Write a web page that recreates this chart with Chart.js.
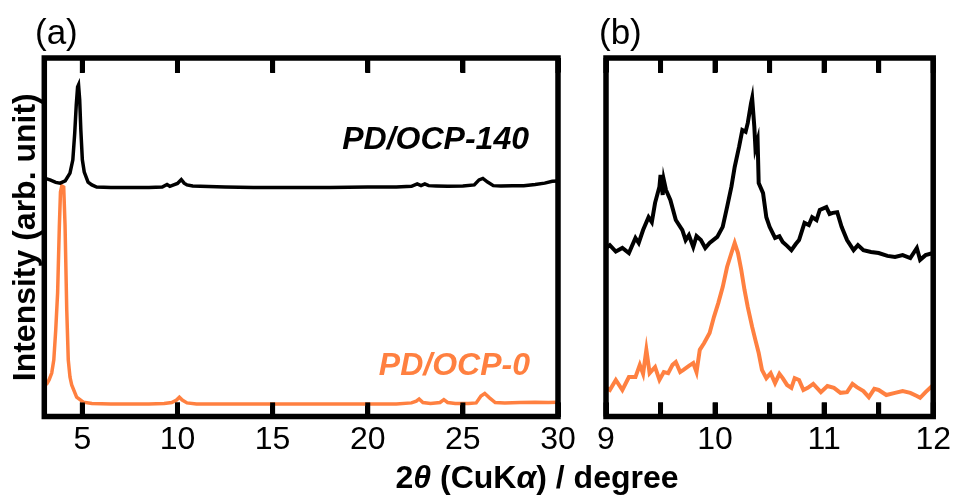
<!DOCTYPE html>
<html>
<head>
<meta charset="utf-8">
<script src="https://cdn.jsdelivr.net/npm/chart.js@4.4.1/dist/chart.umd.min.js"></script>
<style>
  body { margin: 0; background: #fff; }
  #wrap { position: relative; width: 969px; height: 500px; }
  #wrap canvas { position: absolute; left: 0; top: 0; }
</style>
</head>
<body>
<div id="wrap">
  <canvas id="xrd-wide" width="969" height="500"></canvas>
  <canvas id="xrd-zoom" width="969" height="500"></canvas>
</div>
<script>
// Panel (a): wide-angle scan, 2theta in degree
const twoThetaA140 = [3.0, 3.3, 3.6, 3.83, 4.1, 4.35, 4.5, 4.6, 4.68, 4.75, 4.8, 4.86, 4.92, 5.0, 5.1, 5.3, 5.5, 5.75, 6.5, 7.5,
  8.5, 9.2, 9.45, 9.6, 9.8, 10.0, 10.2, 10.35, 10.5, 10.8, 11.2, 12.5, 14, 16, 18, 20, 21.5, 22.3, 22.6, 22.8,
  23.0, 23.2, 23.6, 24.2, 25.0, 25.6, 25.85, 26.05, 26.3, 26.6, 27.0, 27.6, 28.2, 28.8, 29.3, 29.7, 30.0];
const intensityA140 = [66.5, 66.0, 65.3, 65.1, 65.7, 67.9, 71.6, 79.1, 86.9, 91.9, 92.5, 88.3, 79.9, 71.6, 68.2, 65.4, 64.6, 64.0, 63.9, 63.9,
  63.9, 64.0, 64.7, 64.2, 64.6, 65.0, 66.1, 65.1, 64.6, 64.3, 64.2, 64.0, 63.9, 63.9, 63.9, 64.0, 64.0, 64.2, 64.9, 64.4,
  64.9, 64.4, 64.3, 64.2, 64.3, 64.6, 66.0, 66.4, 65.4, 64.4, 64.3, 64.4, 64.4, 64.7, 65.1, 65.6, 65.7];

const twoThetaA0 = [3.0, 3.13, 3.25, 3.39, 3.5, 3.6, 3.7, 3.79, 3.85, 3.92, 4.02, 4.09, 4.18, 4.26, 4.35, 4.44, 4.7, 5.05, 5.5, 6.5,
  7.5, 8.5, 9.3, 9.7, 9.95, 10.1, 10.25, 10.5, 11, 12, 14, 16, 18, 20, 21.5, 22.3, 22.55, 22.7, 22.9, 23.3,
  23.8, 24.0, 24.2, 24.6, 25.3, 25.7, 25.95, 26.15, 26.4, 26.7, 27.2, 28, 28.8, 29.5, 30.0];
const intensityA0 = [8.8, 9.1, 10.2, 12.1, 15.8, 24.1, 34.5, 52.9, 62.6, 64.3, 64.0, 53.4, 29.7, 15.8, 11.0, 8.8, 5.4, 4.0, 3.6, 3.5,
  3.5, 3.5, 3.6, 3.9, 4.6, 5.4, 4.6, 3.8, 3.5, 3.5, 3.5, 3.5, 3.5, 3.5, 3.5, 3.8, 4.3, 4.9, 3.9, 3.6,
  3.9, 4.7, 3.9, 3.6, 3.6, 3.8, 5.7, 6.4, 5.2, 3.9, 3.8, 3.9, 4.0, 3.9, 4.0];

// Panel (b): 9-12 degree region
const twoThetaB140 = [9.0, 9.035, 9.09, 9.15, 9.21, 9.27, 9.30, 9.34, 9.39, 9.42,
  9.45, 9.49, 9.50, 9.52, 9.53, 9.55, 9.59, 9.64, 9.70, 9.73,
  9.76, 9.80, 9.83, 9.87, 9.91, 9.95, 10.02, 10.07, 10.11, 10.15,
  10.18, 10.22, 10.25, 10.28, 10.30, 10.33, 10.34, 10.36, 10.37, 10.39,
  10.40, 10.44, 10.47, 10.50, 10.55, 10.59, 10.62, 10.66, 10.70, 10.74,
  10.77, 10.82, 10.86, 10.89, 10.93, 10.96, 11.02, 11.05, 11.08, 11.12,
  11.16, 11.21, 11.27, 11.31, 11.36, 11.43, 11.50, 11.58, 11.65, 11.72,
  11.79, 11.85, 11.88, 11.93, 12.0];
const intensityB140 = [47.0, 47.8, 46.0, 47.0, 45.6, 49.8, 48.4, 52.0, 55.6, 54.2,
  59.6, 64.1, 67.4, 61.8, 66.0, 63.2, 60.4, 54.8, 52.0, 49.2,
  50.6, 47.3, 50.3, 49.2, 47.0, 48.4, 50.1, 52.9, 58.4, 64.1,
  69.6, 75.2, 79.9, 79.4, 81.9, 87.4, 88.8, 80.8, 74.9, 77.1,
  65.1, 62.3, 55.6, 52.9, 49.8, 50.3, 48.7, 47.6, 46.4, 48.1,
  49.2, 54.0, 53.4, 55.6, 54.8, 57.6, 58.4, 56.5, 56.8, 57.0,
  52.9, 49.2, 46.4, 47.8, 46.4, 45.9, 45.6, 44.8, 44.5, 45.0,
  44.2, 47.0, 43.7, 45.0, 45.6];

const twoThetaB0 = [9.0, 9.035, 9.09, 9.15, 9.21, 9.27, 9.31, 9.34, 9.37, 9.40,
  9.45, 9.49, 9.53, 9.57, 9.61, 9.64, 9.68, 9.71, 9.76, 9.80,
  9.83, 9.86, 9.90, 9.95, 9.99, 10.03, 10.07, 10.11, 10.15, 10.18,
  10.21, 10.24, 10.27, 10.30, 10.34, 10.37, 10.40, 10.43, 10.47, 10.51,
  10.55, 10.59, 10.62, 10.66, 10.70, 10.73, 10.77, 10.81, 10.85, 10.90,
  10.97, 11.03, 11.09, 11.15, 11.21, 11.26, 11.30, 11.36, 11.41, 11.46,
  11.50, 11.57, 11.65, 11.72, 11.79, 11.85, 11.88, 11.93, 12.0];
const intensityB0 = [8.0, 7.4, 10.2, 7.4, 11.0, 11.0, 14.4, 11.9, 18.6, 12.1,
  13.8, 10.2, 12.4, 12.1, 14.4, 15.2, 12.4, 13.0, 14.1, 14.9,
  12.4, 18.6, 20.5, 23.3, 27.8, 31.7, 36.1, 41.7, 45.6, 48.4,
  45.6, 40.9, 35.3, 30.5, 25.0, 21.3, 17.7, 13.0, 10.7, 12.1,
  9.3, 11.9, 10.7, 8.8, 8.0, 10.7, 10.2, 7.4, 8.0, 9.1,
  6.8, 8.5, 8.0, 6.6, 6.8, 9.1, 8.2, 7.1, 5.4, 7.7,
  7.4, 6.0, 6.6, 7.1, 6.6, 5.7, 5.2, 6.8, 8.8];

// tick positions (marks) and which of them carry a number (labels)
const tickMarksA = [5, 10, 15, 20, 25, 30];
const tickLabelsA = [5, 10, 15, 20, 25, 30];
const tickMarksB = [9, 9.5, 10, 10.5, 11, 11.5, 12];
const tickLabelsB = [9, 10, 11, 12];

const BLACK = '#000000';
const ORANGE = '#ff8040';
const FONT = '"Liberation Sans", Arial, sans-serif';
const TICK_IN = 14; // px, ticks point into the plot

const toPoints = (xs, ys) => xs.map((x, i) => ({ x: x, y: ys[i] }));

// inward tick marks drawn by the axis itself (negative tick length)
const tickGrid = {
  display: true,
  drawOnChartArea: false,
  drawTicks: true,
  tickLength: -TICK_IN,
  tickWidth: 5,
  tickColor: BLACK,
  color: BLACK,
  lineWidth: 5
};

function xScale(min, max, marks, labels) {
  return {
    type: 'linear',
    position: 'bottom',
    min: min,
    max: max,
    grid: tickGrid,
    border: { display: false },
    ticks: {
      color: BLACK,
      font: { family: FONT, size: 32 },
      padding: 4 + TICK_IN,
      maxRotation: 0,
      autoSkip: false,
      callback: v => (labels.includes(v) ? String(v) : '')
    },
    afterBuildTicks: s => { s.ticks = marks.map(v => ({ value: v })); },
    afterFit: s => { s.height = 83.5; }
  };
}

function xTopScale(min, max, marks) {
  return {
    type: 'linear',
    position: 'top',
    min: min,
    max: max,
    grid: tickGrid,
    border: { display: false },
    ticks: { display: false },
    afterBuildTicks: s => { s.ticks = marks.map(v => ({ value: v })); },
    afterFit: s => { s.height = 0; }
  };
}

// thick box around the plot area, tick marks along both edges,
// then the free text (panel letters, sample names, shared x title)
function decorations(marks, items) {
  return {
    id: 'decorations',
    afterDraw(chart) {
      const ctx = chart.ctx;
      const a = chart.chartArea;
      const xs = chart.scales.x;
      ctx.save();
      ctx.fillStyle = BLACK;
      marks.forEach(v => {
        const px = xs.getPixelForValue(v);
        ctx.fillRect(px - 2.5, a.top, 5, TICK_IN + 1);
        ctx.fillRect(px - 2.5, a.bottom - TICK_IN, 5, TICK_IN);
      });
      ctx.strokeStyle = BLACK;
      ctx.lineWidth = 5.5;
      ctx.strokeRect(a.left, a.top, a.right - a.left, a.bottom - a.top);

      ctx.textBaseline = 'alphabetic';
      ctx.textAlign = 'left';
      items.forEach(item => {
        ctx.fillStyle = item.color || BLACK;
        let total = 0;
        item.runs.forEach(r => { ctx.font = r.font; total += ctx.measureText(r.text).width; });
        let tx = item.x;
        if (item.align === 'right') tx -= total;
        if (item.align === 'center') tx -= total / 2;
        item.runs.forEach(r => {
          ctx.font = r.font;
          ctx.fillText(r.text, tx, item.y);
          tx += ctx.measureText(r.text).width;
        });
      });
      ctx.restore();
    }
  };
}

const lineStyle = (data, color, width) => ({
  data: data,
  borderColor: color,
  backgroundColor: color,
  borderWidth: width,
  pointRadius: 0,
  tension: 0,
  fill: false
});

const bold32 = 'bold 32px ' + FONT;
const boldItalic32 = 'italic bold 32px ' + FONT;

new Chart(document.getElementById('xrd-wide'), {
  type: 'line',
  data: {
    datasets: [
      lineStyle(toPoints(twoThetaA140, intensityA140), BLACK, 3.5),
      lineStyle(toPoints(twoThetaA0, intensityA0), ORANGE, 3.5)
    ]
  },
  options: {
    responsive: false,
    animation: false,
    devicePixelRatio: 1,
    layout: { padding: { left: 0, right: 411, top: 58, bottom: 0 } },
    scales: {
      x: xScale(3, 30, tickMarksA, tickLabelsA),
      xTop: xTopScale(3, 30, tickMarksA),
      y: {
        min: 0,
        max: 100,
        grid: { display: false },
        border: { display: false },
        ticks: { display: false },
        title: {
          display: true,
          text: 'Intensity (arb. unit)',
          color: BLACK,
          font: { family: FONT, size: 32, weight: 'bold' },
          padding: { top: 7, bottom: 0 }
        },
        afterFit: s => { s.width = 44.3; }
      }
    },
    plugins: {
      legend: { display: false },
      tooltip: { enabled: false }
    }
  },
  plugins: [
    decorations(tickMarksA, [
      { x: 35, y: 44, runs: [{ text: '(a)', font: '35px ' + FONT }] },
      { x: 529, y: 149, align: 'right', runs: [{ text: 'PD/OCP-140', font: boldItalic32 }] },
      { x: 530, y: 375, align: 'right', color: ORANGE, runs: [{ text: 'PD/OCP-0', font: boldItalic32 }] },
      {
        x: 537, y: 488, align: 'center',
        runs: [
          { text: '2', font: bold32 },
          { text: 'θ', font: boldItalic32 },
          { text: ' (CuK', font: bold32 },
          { text: 'α', font: boldItalic32 },
          { text: ') / degree', font: bold32 }
        ]
      }
    ])
  ]
});

new Chart(document.getElementById('xrd-zoom'), {
  type: 'line',
  data: {
    datasets: [
      lineStyle(toPoints(twoThetaB140, intensityB140), BLACK, 4),
      lineStyle(toPoints(twoThetaB0, intensityB0), ORANGE, 4)
    ]
  },
  options: {
    responsive: false,
    animation: false,
    devicePixelRatio: 1,
    layout: { padding: { left: 606, right: 22.5, top: 58, bottom: 0 } },
    scales: {
      x: xScale(9, 12, tickMarksB, tickLabelsB),
      xTop: xTopScale(9, 12, tickMarksB),
      y: { min: 0, max: 100, display: false }
    },
    plugins: {
      legend: { display: false },
      tooltip: { enabled: false }
    }
  },
  plugins: [
    decorations(tickMarksB, [
      { x: 599, y: 44, runs: [{ text: '(b)', font: '35px ' + FONT }] }
    ])
  ]
});
</script>
</body>
</html>
